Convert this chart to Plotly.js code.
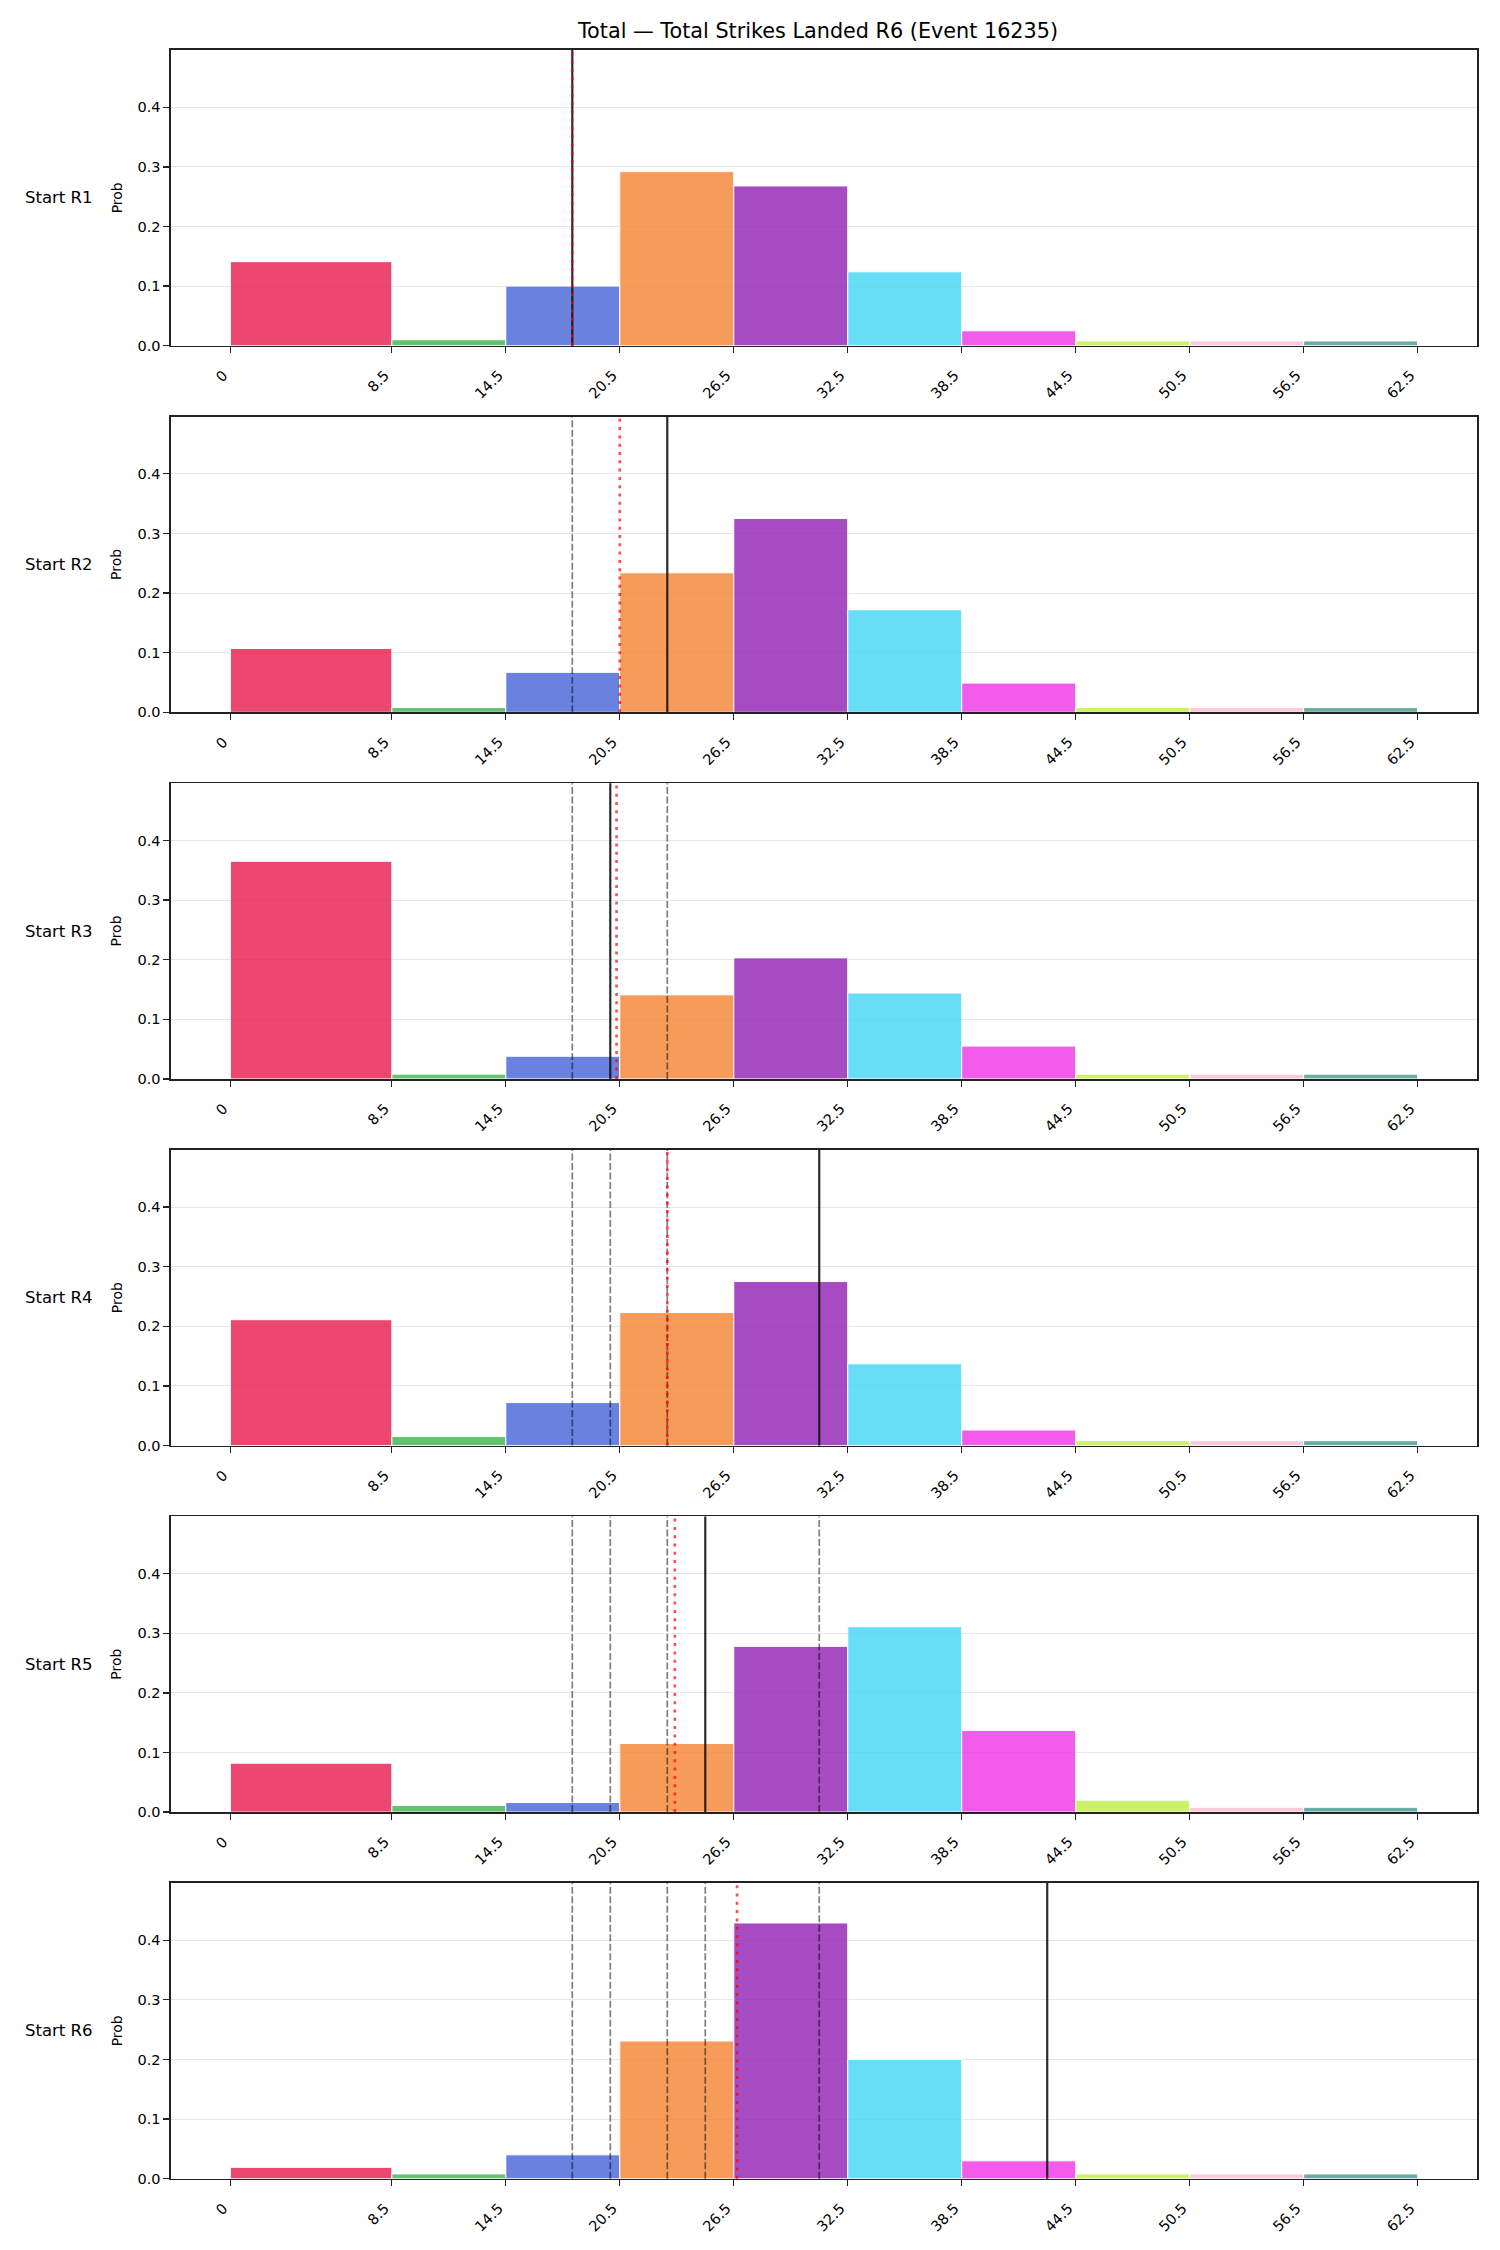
<!DOCTYPE html>
<html>
<head>
<meta charset="utf-8">
<script src="https://cdn.plot.ly/plotly-3.0.1.min.js"></script>
<style>
  html, body { margin: 0; padding: 0; background: #ffffff; }
  #chart { width: 1500px; height: 2250px; }
</style>
</head>
<body>
<div id="chart"></div>
<script>
// Bin edges of the strike-count buckets and their tick labels
const binEdges = [0, 8.5, 14.5, 20.5, 26.5, 32.5, 38.5, 44.5, 50.5, 56.5, 62.5];
const tickLabels = ['0', '8.5', '14.5', '20.5', '26.5', '32.5', '38.5', '44.5', '50.5', '56.5', '62.5'];

// One colour per bucket
const binColors = ['#e6194b', '#3cb44b', '#4363d8', '#f58231', '#911eb4',
                   '#42d4f4', '#f032e6', '#bfef45', '#fabed4', '#469990'];

// Row labels (state at the start of each round)
const rowLabels = ['Start R1', 'Start R2', 'Start R3', 'Start R4', 'Start R5', 'Start R6'];

// Probability of each bucket, one array per round
const probR1 = [0.141, 0.010, 0.100, 0.292, 0.268, 0.124, 0.025, 0.008, 0.008, 0.008];
const probR2 = [0.107, 0.008, 0.067, 0.234, 0.325, 0.172, 0.049, 0.008, 0.008, 0.008];
const probR3 = [0.365, 0.008, 0.038, 0.141, 0.203, 0.144, 0.055, 0.008, 0.008, 0.008];
const probR4 = [0.211, 0.015, 0.072, 0.223, 0.275, 0.137, 0.026, 0.008, 0.008, 0.008];
const probR5 = [0.082, 0.011, 0.016, 0.115, 0.278, 0.311, 0.137, 0.020, 0.008, 0.008];
const probR6 = [0.019, 0.008, 0.040, 0.231, 0.429, 0.200, 0.030, 0.008, 0.008, 0.008];
const probRows = [probR1, probR2, probR3, probR4, probR5, probR6];

// Strikes landed in each round (solid line) and running average (dotted line)
const roundStrikes = [18, 23, 20, 31, 25, 43];
const runningAvg = [18, 20.5, 20.33, 23, 23.4, 26.67];

const chartTitle = 'Total \u2014 Total Strikes Landed R6 (Event 16235)';
const yTitle = 'Prob';

// ---- geometry (pixels) ----
const W = 1500, H = 2250;
const plotLeft = 171, plotRight = 1477;
const firstTop = 50, rowStep = 366.6, plotH = 295.7;
const yMax = 0.496;
const FONT = 'DejaVu Sans, sans-serif';

const centers = [], widths = [];
for (let i = 0; i < binEdges.length - 1; i++) {
  centers.push((binEdges[i] + binEdges[i + 1]) / 2);
  widths.push(binEdges[i + 1] - binEdges[i]);
}
const fillColors = binColors.map(c => {
  const r = parseInt(c.slice(1, 3), 16), g = parseInt(c.slice(3, 5), 16), b = parseInt(c.slice(5, 7), 16);
  return `rgba(${r},${g},${b},0.8)`;
});

const traces = [];
const layout = {
  width: W, height: H,
  margin: { l: 0, r: 0, t: 0, b: 0 },
  paper_bgcolor: '#ffffff', plot_bgcolor: '#ffffff',
  showlegend: false,
  hovermode: false,
  font: { family: FONT, color: '#000000', size: 14 },
  title: {
    text: chartTitle,
    font: { family: FONT, size: 20.75, color: '#000000' },
    x: 818 / W, xanchor: 'center', xref: 'paper',
    y: 1 - 31 / H, yanchor: 'middle', yref: 'paper'
  },
  shapes: [],
  annotations: []
};

probRows.forEach((probs, i) => {
  const n = i + 1;
  const xa = n === 1 ? 'xaxis' : 'xaxis' + n;
  const ya = n === 1 ? 'yaxis' : 'yaxis' + n;
  const xr = n === 1 ? 'x' : 'x' + n;
  const yr = n === 1 ? 'y' : 'y' + n;
  const top = firstTop + rowStep * i;
  const bottom = top + plotH;

  traces.push({
    type: 'bar',
    x: centers, y: probs, width: widths,
    xaxis: xr, yaxis: yr,
    marker: { color: fillColors, line: { color: '#ffffff', width: 1 } },
    hoverinfo: 'skip'
  });

  layout[xa] = {
    domain: [plotLeft / W, plotRight / W],
    anchor: yr,
    range: [-3.125, 65.625],
    tickmode: 'array', tickvals: binEdges, ticktext: tickLabels,
    tickangle: -45,
    ticklabelstandoff: 8, ticklabelshift: -7,
    ticks: 'outside', ticklen: 6, tickwidth: 1.3, tickcolor: '#222222',
    tickfont: { family: FONT, size: 14.5, color: '#000000' },
    showgrid: false, zeroline: false,
    showline: true, linecolor: '#222222', linewidth: 1.6, mirror: true,
    fixedrange: true
  };
  layout[ya] = {
    domain: [1 - bottom / H, 1 - top / H],
    anchor: xr,
    range: [0, yMax],
    tickmode: 'array', tickvals: [0, 0.1, 0.2, 0.3, 0.4],
    ticktext: ['0.0', '0.1', '0.2', '0.3', '0.4'],
    ticks: 'outside', ticklen: 6, tickwidth: 1.3, tickcolor: '#222222',
    tickfont: { family: FONT, size: 14.5, color: '#000000' },
    showgrid: true, gridcolor: '#e6e6e6', gridwidth: 1,
    zeroline: false,
    showline: true, linecolor: '#222222', linewidth: 1.6, mirror: true,
    fixedrange: true
  };

  // earlier rounds: dashed
  for (let k = 0; k < i; k++) {
    layout.shapes.push({
      type: 'line', layer: 'above', xref: xr, yref: yr + ' domain',
      x0: roundStrikes[k], x1: roundStrikes[k], y0: 0, y1: 1,
      line: { color: 'rgba(0,0,0,0.5)', width: 1.7, dash: '7px,2.5px' }
    });
  }
  // this round: solid
  layout.shapes.push({
    type: 'line', layer: 'above', xref: xr, yref: yr + ' domain',
    x0: roundStrikes[i], x1: roundStrikes[i], y0: 0, y1: 1,
    line: { color: 'rgba(20,20,20,0.9)', width: 2.2 }
  });
  // running average: dotted
  layout.shapes.push({
    type: 'line', layer: 'above', xref: xr, yref: yr + ' domain',
    x0: runningAvg[i], x1: runningAvg[i], y0: 0, y1: 1,
    line: { color: 'rgba(255,0,0,0.7)', width: 2.6, dash: '3px,5.3px' }
  });

  const mid = 1 - (top + bottom) / 2 / H;
  layout.annotations.push({
    text: rowLabels[i], xref: 'paper', yref: 'paper',
    x: 23 / W, y: mid, xanchor: 'left', yanchor: 'middle',
    showarrow: false, font: { family: FONT, size: 16.5, color: '#000000' }
  });
  layout.annotations.push({
    text: yTitle, xref: 'paper', yref: 'paper',
    x: 116.5 / W, y: mid, xanchor: 'center', yanchor: 'middle', textangle: -90,
    showarrow: false, font: { family: FONT, size: 14, color: '#000000' }
  });
});

Plotly.newPlot('chart', traces, layout, { staticPlot: true, displayModeBar: false });
</script>
</body>
</html>
